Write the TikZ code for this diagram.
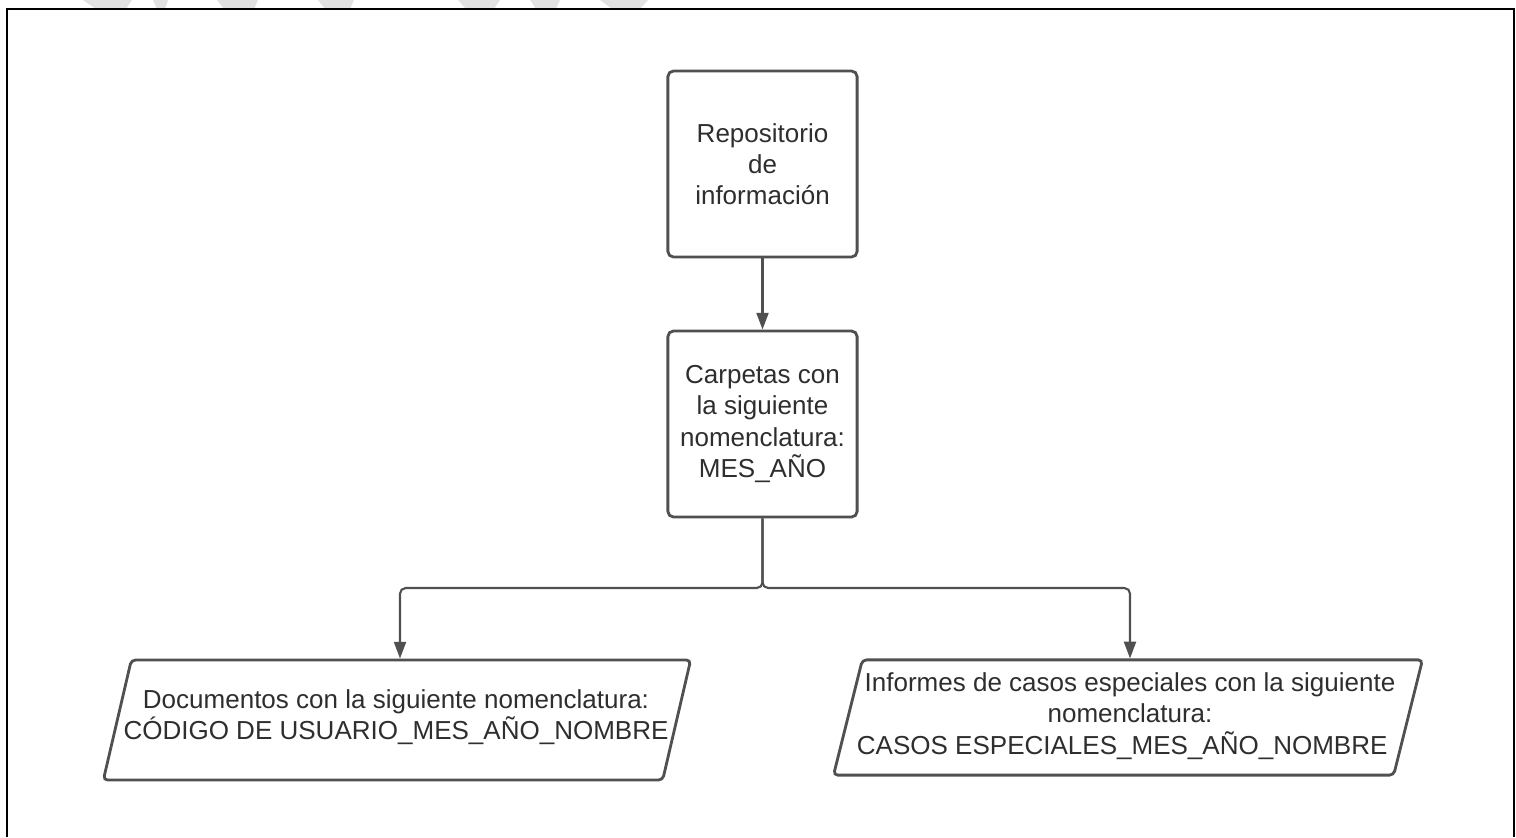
\documentclass[tikz,border=0pt]{standalone}
\usepackage{fontspec}
\setmainfont{Liberation Sans}
\usepackage{tikz}
\usetikzlibrary{arrows.meta}

\definecolor{linegray}{HTML}{505050}
\definecolor{textgray}{HTML}{2E2E2E}
\definecolor{markgray}{HTML}{E2E2E2}

\begin{document}
\begin{tikzpicture}[x = 0.025cm, y = -0.025cm,
  box/.style = {draw = linegray, line width = 2pt, rounded corners = 4pt, minimum width = 4.73cm, minimum height = 4.65cm, inner sep = 0pt, text = textgray, align = center, font = \fontsize{18.5}{22.2}\selectfont},
  para/.style = {draw = linegray, line width = 2pt, rounded corners = 3pt, xslant = #1, transform shape, inner sep = 0pt},
  boxtext/.style = {text = textgray, align = center, font = \fontsize{18.5}{22.2}\selectfont},
  link/.style = {draw = linegray, line width = 1.5pt, rounded corners = 4pt, -{Triangle[length = 0.42cm, width = 0.3cm]}}]

\useasboundingbox (0, 0) rectangle (1516, 837);

\fill[markgray] (83, 0) -- (132, 0) -- (126, 9) -- (96, 9) -- cycle;
\fill[markgray] (153, 0) -- (168, 0) -- (165, 9) -- (157, 9) -- cycle;
\fill[markgray] (217, 0) -- (258, 0) -- (254, 9) -- (224, 9) -- cycle;
\fill[markgray] (318, 0) -- (354, 0) -- (350, 9) -- (325, 9) -- cycle;
\fill[markgray] (458, 0) -- (500, 0) -- (494, 9) -- (466, 9) -- cycle;
\fill[markgray] (530, 0) -- (560, 0) -- (556, 9) -- (536, 9) -- cycle;
\fill[markgray] (600, 0) -- (648, 0) -- (640, 9) -- (612, 9) -- cycle;

\draw[line width = 2pt] (7, 837) -- (7, 9) -- (1514, 9) -- (1514, 837);

\node[box] (repo) at (762.5, 164) {Repositorio\\de\\información};
\node[box] (folders) at (762.5, 424) {Carpetas con\\la siguiente\\nomenclatura:\\MES\_AÑO};

\node[para = 0.233, minimum width = 13.98cm, minimum height = 3cm] (docs) at (397, 720) {};
\node[boxtext] (docstext) at (396, 717) {Documentos con la siguiente nomenclatura:\\CÓDIGO DE USUARIO\_MES\_AÑO\_NOMBRE};

\node[para = 0.25, minimum width = 14cm, minimum height = 2.88cm] (cases) at (1128, 717.5) {};
\node[boxtext] (casestext) at (1130, 716) {Informes de casos especiales con la siguiente\\nomenclatura:\\CASOS ESPECIALES\_MES\_AÑO\_NOMBRE\hspace*{0.6em}};

\coordinate (split) at (762.5, 588);

\draw[link] (repo) -- (folders);
\draw[link] (folders) -- (split) -| ([xshift = 0.075cm] docs.north -| docs.center);
\draw[link] (folders) -- (split) -| ([xshift = 0.05cm] cases.north -| cases.center);

\end{tikzpicture}
\end{document}
